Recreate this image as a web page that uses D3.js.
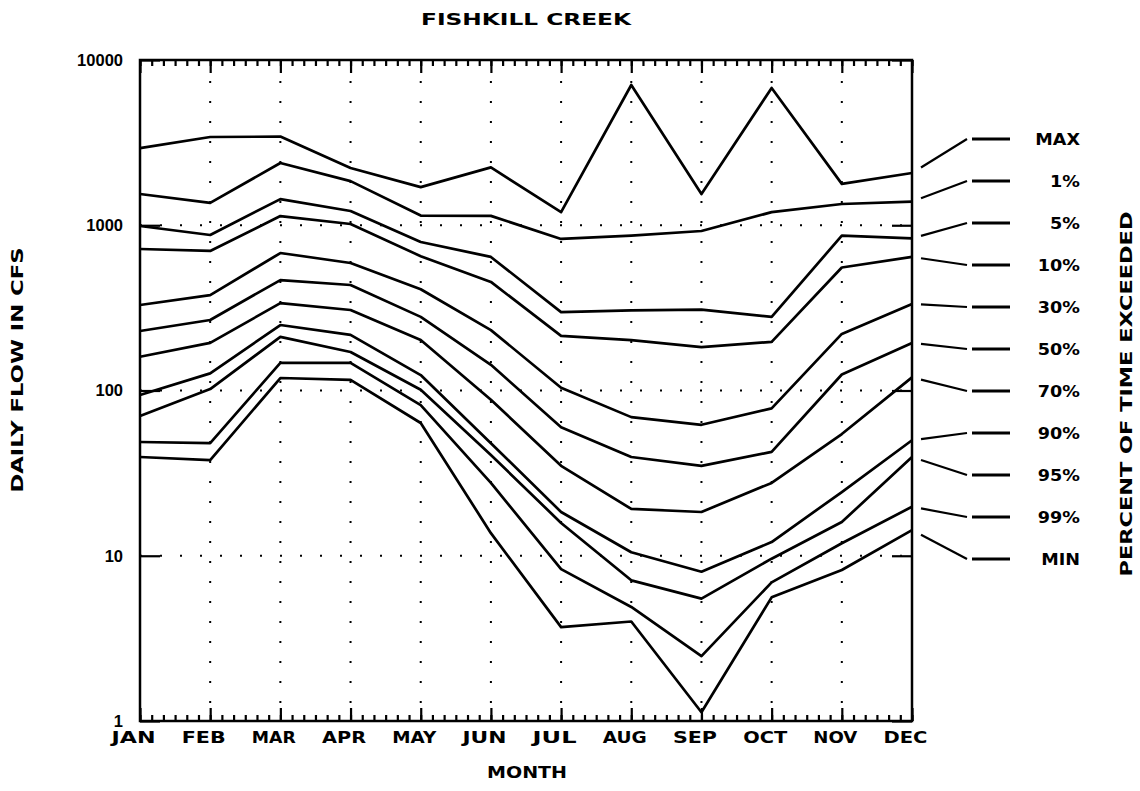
<!DOCTYPE html>
<html>
<head>
<meta charset="utf-8">
<script src="https://cdn.jsdelivr.net/npm/d3@7"></script>
<style>
  body { margin: 0; background: #fff; }
  text { font-family: "DejaVu Sans", sans-serif; font-weight: bold; fill: #000; }
</style>
</head>
<body>
<script>
// flow duration by month, daily flow in cfs
var MONTHS = ["JAN","FEB","MAR","APR","MAY","JUN","JUL","AUG","SEP","OCT","NOV","DEC"];
var SERIES_LABELS = ["MAX","1%","5%","10%","30%","50%","70%","90%","95%","99%","MIN"];

var flowMax = [2930, 3420, 3440, 2220, 1700, 2240, 1200, 7060, 1545, 6770, 1780, 2070];
var flowP1  = [1545, 1365, 2380, 1850, 1145, 1140, 826, 865, 923, 1200, 1345, 1390];
var flowP5  = [990, 873, 1440, 1220, 792, 643, 298, 305, 309, 279, 865, 832];
var flowP10 = [718, 699, 1137, 1018, 650, 454, 214, 202, 183, 197, 555, 643];
var flowP30 = [329, 378, 679, 591, 410, 232, 104, 69, 62, 78, 220, 334];
var flowP50 = [229, 267, 466, 435, 279, 143, 60, 39.6, 35, 42.5, 125, 194];
var flowP70 = [160, 194, 338, 307, 202, 88, 35, 19.2, 18.4, 27.6, 54.5, 120];
var flowP90 = [94, 127, 249, 217, 124, 48, 18.4, 10.5, 8.0, 12.1, 24.3, 50];
var flowP95 = [70, 102, 211, 171, 101, 40.7, 15.8, 7.1, 5.5, 9.6, 16, 39.6];
var flowP99 = [48.8, 48, 147, 147, 81.6, 27.6, 8.3, 4.9, 2.47, 6.9, 11.9, 19.8];
var flowMin = [39.6, 37.9, 119, 116, 63.6, 13.7, 3.7, 4.0, 1.13, 5.6, 8.2, 14.3];

var ALL_SERIES = [flowMax, flowP1, flowP5, flowP10, flowP30, flowP50, flowP70, flowP90, flowP95, flowP99, flowMin];
var Y_TICKS = [1, 10, 100, 1000, 10000];
var GRID_Y = [10, 100, 1000];

var LEFT = 140, RIGHT = 912, TOP = 60, BOTTOM = 721;

var svg = d3.select("body").append("svg")
    .attr("width", 1140)
    .attr("height", 791);

var x = d3.scaleLinear().domain([0, MONTHS.length - 1]).range([LEFT, RIGHT]);
var y = d3.scaleLog().domain([1, 10000]).range([BOTTOM, TOP]);

// dotted grid
var grid = svg.append("g")
    .attr("stroke", "#000")
    .attr("stroke-width", 2)
    .attr("stroke-dasharray", "2,18");

grid.selectAll(".vgrid")
    .data(d3.range(1, MONTHS.length - 1))
    .enter().append("line")
    .attr("class", "vgrid")
    .attr("x1", function(d) { return x(d); })
    .attr("x2", function(d) { return x(d); })
    .attr("y1", TOP + 21)
    .attr("y2", BOTTOM);

grid.selectAll(".hgrid")
    .data(GRID_Y)
    .enter().append("line")
    .attr("class", "hgrid")
    .attr("x1", LEFT)
    .attr("x2", RIGHT)
    .attr("y1", function(d) { return y(d); })
    .attr("y2", function(d) { return y(d); });

// month ticks, major and minor, top and bottom
var minorTicks = d3.range(0, 11 * 6 + 1).map(function(d) { return d / 6; });
var majorTicks = d3.range(0, MONTHS.length);

function styleAxis(g) {
    g.select(".domain").remove();
    g.selectAll(".tick line").attr("stroke", "#000").attr("stroke-width", 2.2);
}

svg.append("g").attr("transform", "translate(0," + TOP + ")")
    .call(d3.axisTop(x).tickValues(minorTicks).tickSize(-6).tickFormat(""))
    .call(styleAxis);
svg.append("g").attr("transform", "translate(0," + TOP + ")")
    .call(d3.axisTop(x).tickValues(majorTicks).tickSize(-13).tickFormat(""))
    .call(styleAxis);
svg.append("g").attr("transform", "translate(0," + BOTTOM + ")")
    .call(d3.axisBottom(x).tickValues(minorTicks).tickSize(-6).tickFormat(""))
    .call(styleAxis);

var xAxis = svg.append("g").attr("transform", "translate(0," + BOTTOM + ")")
    .call(d3.axisBottom(x).tickValues(majorTicks).tickSize(-13).tickPadding(11)
        .tickFormat(function(d) { return MONTHS[d]; }))
    .call(styleAxis);
xAxis.selectAll(".tick text")
    .attr("x", -7)
    .style("font-size", "15px")
    .attr("textLength", 44)
    .attr("lengthAdjust", "spacingAndGlyphs");

// value axes, left with labels, right only ticks
var yAxis = svg.append("g").attr("transform", "translate(" + LEFT + ",0)")
    .call(d3.axisLeft(y).tickValues(Y_TICKS).tickSize(-20).tickPadding(17)
        .tickFormat(d3.format("d")))
    .call(styleAxis);
yAxis.selectAll(".tick text")
    .style("font-family", "'Liberation Sans', Arial, sans-serif")
    .style("font-size", "16.5px");

svg.append("g").attr("transform", "translate(" + RIGHT + ",0)")
    .call(d3.axisRight(y).tickValues(Y_TICKS).tickSize(-20).tickFormat(""))
    .call(styleAxis);

// frame
svg.append("rect")
    .attr("x", LEFT)
    .attr("y", TOP)
    .attr("width", RIGHT - LEFT)
    .attr("height", BOTTOM - TOP)
    .attr("fill", "none")
    .attr("stroke", "#000")
    .attr("stroke-width", 2.5);

// curves
var line = d3.line()
    .x(function(d, i) { return x(i); })
    .y(function(d) { return y(d); });

svg.append("g").selectAll(".curve")
    .data(ALL_SERIES)
    .enter().append("path")
    .attr("class", "curve")
    .attr("d", line)
    .attr("fill", "none")
    .attr("stroke", "#000")
    .attr("stroke-width", 2.7)
    .attr("stroke-linejoin", "round");

// legend on the right, leaders from the DEC end of each curve
var legendY = d3.scalePoint().domain(SERIES_LABELS).range([139, 559]);
var LEAD_X0 = RIGHT, LEAD_X1 = RIGHT + 55;

var legend = svg.append("g").selectAll(".leg")
    .data(ALL_SERIES)
    .enter().append("g")
    .attr("class", "leg");

legend.append("line")
    .attr("x1", LEAD_X0 + 9)
    .attr("y1", function(d, i) {
        var y0 = y(d[d.length - 1]), y1 = legendY(SERIES_LABELS[i]);
        return y0 + (y1 - y0) * 9 / 55;
    })
    .attr("x2", LEAD_X1)
    .attr("y2", function(d, i) { return legendY(SERIES_LABELS[i]); })
    .attr("stroke", "#000")
    .attr("stroke-width", 2.2);

legend.append("line")
    .attr("x1", LEAD_X1 + 5)
    .attr("x2", LEAD_X1 + 43)
    .attr("y1", function(d, i) { return legendY(SERIES_LABELS[i]); })
    .attr("y2", function(d, i) { return legendY(SERIES_LABELS[i]); })
    .attr("stroke", "#000")
    .attr("stroke-width", 2.8);

legend.append("text")
    .attr("x", 1080)
    .attr("y", function(d, i) { return legendY(SERIES_LABELS[i]); })
    .attr("dy", "0.36em")
    .attr("text-anchor", "end")
    .style("font-size", "16px")
    .text(function(d, i) { return SERIES_LABELS[i]; })
    .each(function() {
        // plotter lettering is a bit wider than the font
        d3.select(this)
            .attr("textLength", this.getComputedTextLength() * 1.1)
            .attr("lengthAdjust", "spacingAndGlyphs");
    });

// titles
svg.append("text")
    .attr("x", 526).attr("y", 20).attr("dy", "0.36em")
    .attr("text-anchor", "middle")
    .style("font-size", "15px")
    .attr("textLength", 210).attr("lengthAdjust", "spacingAndGlyphs")
    .text("FISHKILL CREEK");

svg.append("text")
    .attr("x", 527).attr("y", 773).attr("dy", "0.36em")
    .attr("text-anchor", "middle")
    .style("font-size", "15px")
    .attr("textLength", 80).attr("lengthAdjust", "spacingAndGlyphs")
    .text("MONTH");

svg.append("text")
    .attr("transform", "translate(18,370) rotate(-90)")
    .attr("dy", "0.36em")
    .attr("text-anchor", "middle")
    .style("font-size", "15px")
    .attr("textLength", 245).attr("lengthAdjust", "spacingAndGlyphs")
    .text("DAILY FLOW IN CFS");

svg.append("text")
    .attr("transform", "translate(1127,394) rotate(-90)")
    .attr("dy", "0.36em")
    .attr("text-anchor", "middle")
    .style("font-size", "15px")
    .attr("textLength", 365).attr("lengthAdjust", "spacingAndGlyphs")
    .text("PERCENT OF TIME EXCEEDED");
</script>
</body>
</html>
